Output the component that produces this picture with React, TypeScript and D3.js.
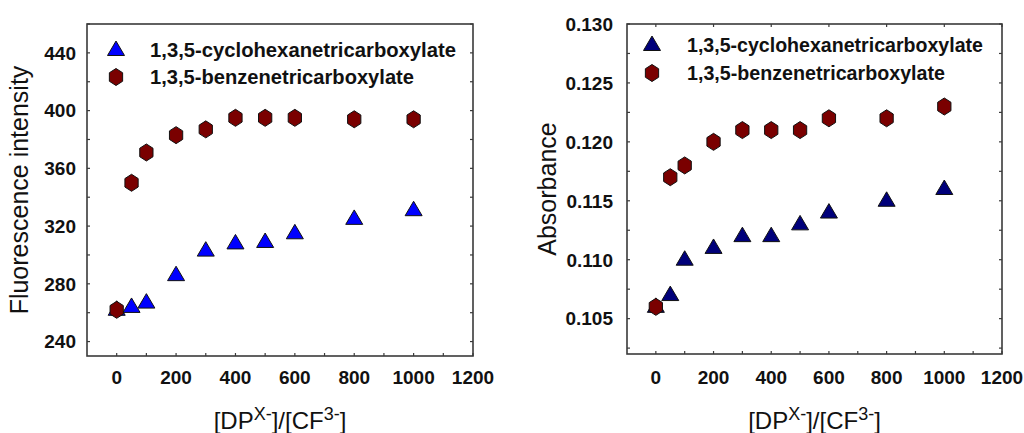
import React from "react";
import * as d3 from "d3";

const xValues = [0, 50, 100, 200, 300, 400, 500, 600, 800, 1000];
const fluoCyclo = [262, 264, 267, 286, 303, 308, 309, 315, 325, 331];
const fluoBenzene = [262, 350, 371, 383, 387, 395, 395, 395, 394, 394];
const absCyclo = [0.106, 0.107, 0.11, 0.111, 0.112, 0.112, 0.113, 0.114, 0.115, 0.116];
const absBenzene = [0.106, 0.117, 0.118, 0.12, 0.121, 0.121, 0.121, 0.122, 0.122, 0.123];
const seriesNames = ["1,3,5-cyclohexanetricarboxylate", "1,3,5-benzenetricarboxylate"];
const xTickLabels = [0, 200, 400, 600, 800, 1000, 1200];
const fluoTickLabels = [240, 280, 320, 360, 400, 440];
const absTickLabels = [0.105, 0.11, 0.115, 0.12, 0.125, 0.13];

const FONT = "'Liberation Sans', Arial, sans-serif";

function triPath(s: number) {
  const h = s * 0.85;
  return `M0,${-h * 0.62}L${s / 2},${h * 0.38}L${-s / 2},${h * 0.38}Z`;
}
function hexPath(r: number) {
  const pts: string[] = [];
  for (let i = 0; i < 6; i++) {
    const a = (Math.PI / 3) * i - Math.PI / 2;
    pts.push(`${(Math.cos(a) * r * 0.9).toFixed(2)},${(Math.sin(a) * r).toFixed(2)}`);
  }
  return "M" + pts.join("L") + "Z";
}

type PanelProps = {
  left: number; right: number; top: number; bottom: number;
  yDomain: [number, number];
  yMinorStep: number;
  yLabels: number[];
  yFmt: (v: number) => string;
  yLabelX: number;
  yTitle: string;
  yTitleX: number;
  cyclo: number[]; benz: number[];
  triColor: string;
  legendX: number; legendY: number; legendTextX: number; legendGap: number;
  legendLens: [number, number];
  topTicks: boolean;
};

function Panel(p: PanelProps) {
  const x = d3.scaleLinear().domain([-100, 1200]).range([p.left, p.right]);
  const y = d3.scaleLinear().domain(p.yDomain).range([p.bottom, p.top]);
  const xMinor = d3.range(0, 1201, 100);
  const yMinor = d3.range(
    Math.ceil(p.yDomain[0] / p.yMinorStep - 1e-9) * p.yMinorStep,
    p.yDomain[1] + p.yMinorStep * 0.01,
    p.yMinorStep
  );
  const tk = 3;
  const stroke = "#3a3a3a";
  const midX = (p.left + p.right) / 2;
  return (
    <g>
      {xMinor.map((v) => (
        <line key={"xb" + v} x1={x(v)} x2={x(v)} y1={p.bottom} y2={p.bottom - tk} stroke={stroke} strokeWidth={1.2} />
      ))}
      {p.topTicks && xMinor.filter((v) => v % 200 === 0).map((v) => (
        <line key={"xt" + v} x1={x(v)} x2={x(v)} y1={p.top} y2={p.top + tk} stroke={stroke} strokeWidth={1.2} />
      ))}
      {yMinor.map((v, i) => (
        <g key={"y" + i}>
          <line x1={p.left} x2={p.left + tk} y1={y(v)} y2={y(v)} stroke={stroke} strokeWidth={1.2} />
          <line x1={p.right} x2={p.right - tk} y1={y(v)} y2={y(v)} stroke={stroke} strokeWidth={1.2} />
        </g>
      ))}
      <rect x={p.left} y={p.top} width={p.right - p.left} height={p.bottom - p.top} fill="none" stroke={stroke} strokeWidth={1.6} />
      {xTickLabels.map((v) => (
        <text key={"xl" + v} x={x(v)} y={383.5} textAnchor="middle" fontFamily={FONT} fontWeight="bold" fontSize={19} fill="#111">
          {v}
        </text>
      ))}
      {p.yLabels.map((v) => (
        <text key={"yl" + v} x={p.yLabelX} y={y(v)} dy="0.36em" textAnchor="end" fontFamily={FONT} fontWeight="bold" fontSize={19} fill="#111">
          {p.yFmt(v)}
        </text>
      ))}
      <text transform={`translate(${p.yTitleX},${(p.top + p.bottom) / 2}) rotate(-90)`} textAnchor="middle" fontFamily={FONT} fontSize={25} fill="#111">
        {p.yTitle}
      </text>
      <text x={midX} y={429} textAnchor="middle" fontFamily={FONT} fontSize={24} fill="#111">
        [DP<tspan dy={-9} fontSize={18}>X-</tspan><tspan dy={9}>]/[CF</tspan><tspan dy={-9} fontSize={18}>3-</tspan><tspan dy={9}>]</tspan>
      </text>
      {xValues.map((v, i) => (
        <path key={"c" + i} d={triPath(17)} transform={`translate(${x(v)},${y(p.cyclo[i])})`} fill={p.triColor} stroke="#111" strokeWidth={1} />
      ))}
      {xValues.map((v, i) => (
        <path key={"b" + i} d={hexPath(8.5)} transform={`translate(${x(v)},${y(p.benz[i])})`} fill="#7a0000" stroke="#111" strokeWidth={1} />
      ))}
      <path d={triPath(17)} transform={`translate(${p.legendX},${p.legendY})`} fill={p.triColor} stroke="#111" strokeWidth={1} />
      <path d={hexPath(8.5)} transform={`translate(${p.legendX},${p.legendY + p.legendGap})`} fill="#7a0000" stroke="#111" strokeWidth={1} />
      <text x={p.legendTextX} y={p.legendY} dy="0.36em" fontFamily={FONT} fontWeight="bold" fontSize={20}
        textLength={p.legendLens[0]} lengthAdjust="spacingAndGlyphs" fill="#111">
        {seriesNames[0]}
      </text>
      <text x={p.legendTextX} y={p.legendY + p.legendGap} dy="0.36em" fontFamily={FONT} fontWeight="bold" fontSize={20}
        textLength={p.legendLens[1]} lengthAdjust="spacingAndGlyphs" fill="#111">
        {seriesNames[1]}
      </text>
    </g>
  );
}

export default function App() {
  return (
    <svg width={1024} height={433} style={{ position: "absolute", left: 0, top: 0, background: "#fff" }}>
      <Panel
        left={87} right={473} top={24} bottom={356}
        yDomain={[230, 460]} yMinorStep={20}
        yLabels={fluoTickLabels} yFmt={(v) => String(v)} yLabelX={76}
        yTitle="Fluorescence intensity" yTitleX={28}
        cyclo={fluoCyclo} benz={fluoBenzene} triColor="#0000ff"
        legendX={116} legendY={50} legendTextX={150} legendGap={27}
        legendLens={[306, 264]}
        topTicks={false}
      />
      <Panel
        left={627} right={1002} top={24} bottom={354}
        yDomain={[0.102, 0.13]} yMinorStep={0.0025}
        yLabels={absTickLabels} yFmt={(v) => v.toFixed(3)} yLabelX={613}
        yTitle="Absorbance" yTitleX={556}
        cyclo={absCyclo} benz={absBenzene} triColor="#00007a"
        legendX={652} legendY={45} legendTextX={687} legendGap={28}
        legendLens={[296, 258]}
        topTicks={true}
      />
    </svg>
  );
}
